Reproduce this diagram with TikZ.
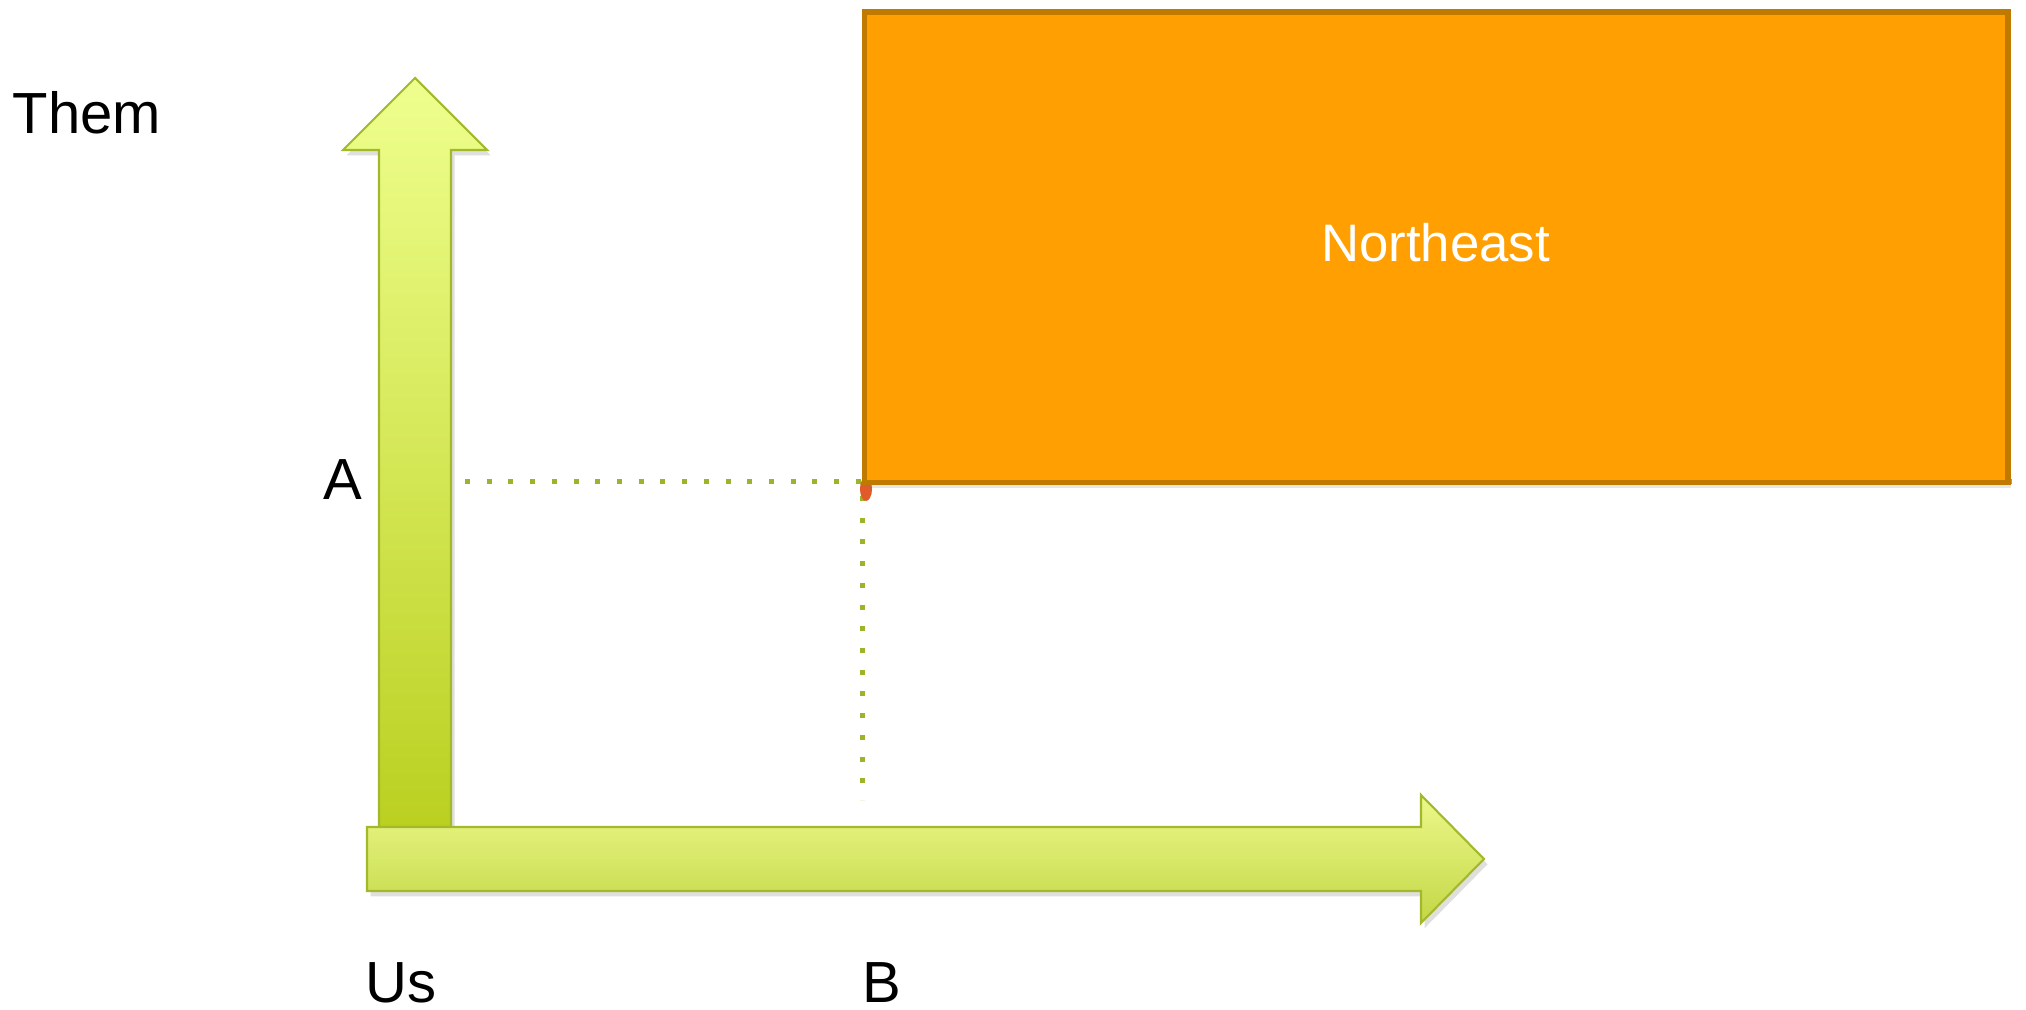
\documentclass[tikz,border=0pt]{standalone}
\usepackage{fontspec}
\setmainfont{Liberation Sans}
\usetikzlibrary{shadows}
\definecolor{arrowline}{HTML}{A3B82A}
\definecolor{uptop}{HTML}{EFFF8E}
\definecolor{upbot}{HTML}{B9CF1E}
\definecolor{rtop}{HTML}{ECF88A}
\definecolor{rbot}{HTML}{C3D746}
\definecolor{dotgreen}{HTML}{9BB52A}
\definecolor{boxfill}{HTML}{FF9F02}
\definecolor{boxline}{HTML}{C07A00}
\definecolor{tear}{HTML}{E05A2A}
\tikzset{
  axisarrow/.style={draw=arrowline, line width=0.6pt, line join=miter,
    drop shadow={opacity=0.25, shadow xshift=1pt, shadow yshift=-1.5pt}},
  dotline/.style={draw=dotgreen, line width=0.05cm, dash pattern=on 0.05cm off 0.167cm},
  lbl/.style={inner sep=0pt, font=\fontsize{16.5}{20}\selectfont},
}
\begin{document}
\begin{tikzpicture}[x=0.01cm, y=-0.01cm]
\useasboundingbox (0,0) rectangle (2026,1010);
% coordinates
\coordinate (hstart) at (465,482);
\coordinate (hend) at (2015,482);
\coordinate (corner) at (862,482);
\coordinate (vend) at (862,800);
% dotted guide lines
\draw[dotline] (hstart) -- (hend);
\draw[dotline] ([yshift=-0.14cm]corner) -- (vend);
% red marker
\fill[tear] (866,489) ellipse [x radius=6, y radius=12];
% up arrow
\path[axisarrow, top color=uptop, bottom color=upbot]
  (379,845) -- (379,150) -- (343,150) -- (415,78) -- (487,150) -- (451,150) -- (451,845) -- cycle;
% right arrow
\path[axisarrow, top color=rtop, bottom color=rbot]
  (367,827) -- (1421,827) -- (1421,795) -- (1484,859) -- (1421,923) -- (1421,891) -- (367,891) -- cycle;
% Northeast box
\node[draw=boxline, fill=boxfill, line width=0.055cm, minimum width=11.43cm, minimum height=4.70cm,
  anchor=north west, inner sep=0pt,
  drop shadow={opacity=0.2, shadow xshift=1pt, shadow yshift=-1.5pt}] (ne) at (861.5,9.5) {};
\node[lbl, text=white, anchor=base, font=\fontsize{15}{18}\selectfont] (netext) at (1435.5,262) {Northeast};
% labels
\node[lbl, anchor=base west] (them) at (12,134) {Them};
\node[lbl, anchor=base west] (a) at (323,500) {A};
\node[lbl, anchor=base west] (us) at (365,1003) {Us};
\node[lbl, anchor=base west] (b) at (862,1003) {B};
\end{tikzpicture}
\end{document}
